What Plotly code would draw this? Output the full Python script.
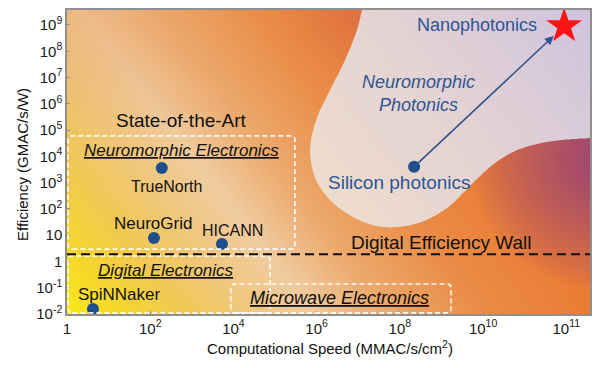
import base64
import struct
import zlib

import numpy as np
import plotly.graph_objects as go

# ---------------- data ----------------
chip_names = ["TrueNorth", "NeuroGrid", "HICANN", "SpiNNaker"]
chip_speed = [190, 123, 5300, 4.2]            # MMAC/s/cm^2
chip_eff = [3600, 7.8, 4.6, 0.0155]           # GMAC/s/W

photonic_names = ["Silicon photonics", "Nanophotonics"]
photonic_speed = [2.2e8, 8.9e11]
photonic_eff = [4.0e3, 9.1e8]

digital_wall_eff = 1.9

region_names = ["Neuromorphic Electronics", "Digital Electronics", "Microwave Electronics"]
region_speed_lo = [1.07, 1.07, 8.7e3]
region_speed_hi = [3.0e5, 7.6e4, 1.7e9]
region_eff_lo = [2.95, 0.011, 0.011]
region_eff_hi = [6.0e4, 1.62, 0.138]

x_tick_vals = [1, 1e2, 1e4, 1e6, 1e8, 1e10, 1e12]
x_tick_text = ["1", "10<sup>2</sup>", "10<sup>4</sup>", "10<sup>6</sup>",
               "10<sup>8</sup>", "10<sup>10</sup>", "10<sup>11</sup>"]
y_tick_vals = [1e-2, 1e-1, 1, 1e1, 1e2, 1e3, 1e4, 1e5, 1e6, 1e7, 1e8, 1e9]
y_tick_text = ["10<sup>-2</sup>", "10<sup>-1</sup>", "1", "10", "10<sup>2</sup>",
               "10<sup>3</sup>", "10<sup>4</sup>", "10<sup>5</sup>", "10<sup>6</sup>",
               "10<sup>7</sup>", "10<sup>8</sup>", "10<sup>9</sup>"]

L = np.log10

# ---------------- layout geometry ----------------
FIG_W, FIG_H = 602, 368
M_L, M_R, M_T, M_B = 67, 12, 10, 54
PW, PH = FIG_W - M_L - M_R, FIG_H - M_T - M_B
X_RANGE = [0, 12.57]
Y_RANGE = [-2, 9.57]

FONT = "Liberation Sans, Arial, Helvetica, sans-serif"
BLUE_TXT = "#2c5696"
DOT = "#1f4e8c"


# ---------------- decorative background (gradient + photonics blob) ----------------
def catmull(points, n=10):
    pts = np.array(points, float)
    P = np.vstack([pts[0], pts, pts[-1]])
    out = []
    for i in range(1, len(P) - 2):
        p0, p1, p2, p3 = P[i - 1], P[i], P[i + 1], P[i + 2]
        for tt in np.linspace(0, 1, n, endpoint=False):
            t2, t3 = tt * tt, tt * tt * tt
            out.append(0.5 * ((2 * p1) + (-p0 + p2) * tt
                              + (2 * p0 - 5 * p1 + 4 * p2 - p3) * t2
                              + (-p0 + 3 * p1 - 3 * p2 + p3) * t3))
    out.append(pts[-1])
    return np.array(out)


def inside(poly, X, Y):
    res = np.zeros(X.shape, bool)
    xj, yj = poly[-1]
    for xi, yi in poly:
        cond = (yi > Y) != (yj > Y)
        xint = (xj - xi) * (Y - yi) / (yj - yi + 1e-12) + xi
        res ^= cond & (X < xint)
        xj, yj = xi, yi
    return res


def interp_color(t, stops, cols):
    cols = np.array(cols, float)
    return np.stack([np.interp(t, stops, cols[:, k]) for k in range(3)], axis=-1)


def build_background():
    ss = 2
    xs = M_L + (np.arange(PW * ss) + 0.5) / ss
    ys = M_T + (np.arange(PH * ss) + 0.5) / ss
    PX, PY = np.meshgrid(xs, ys)

    t = 0.8 * (PX - 83) - 0.6 * (PY - 10)
    base = interp_color(
        t,
        [-200, -150, -100, -50, 0, 60, 140, 230, 420],
        [(250, 236, 20), (245, 214, 45), (241, 200, 85), (240, 199, 125),
         (240, 204, 160), (236, 170, 110), (234, 140, 70), (234, 124, 52),
         (226, 108, 50)])

    # orange-ish tint on the upper-left
    f_top = np.clip(1 - (PY - 10) / 150, 0, 1) * 0.35 * np.clip((150 - t) / 150, 0, 1)
    base = base * (1 - f_top[..., None]) + np.array([232, 150, 90]) * f_top[..., None]

    # reddish tint at top (behind the blob)
    d2 = np.sqrt(((PX - 380) / 110) ** 2 + ((PY - 0) / 90) ** 2)
    w2 = np.clip(1 - d2, 0, 1) * 0.45
    base = base * (1 - w2[..., None]) + np.array([200, 90, 80]) * w2[..., None]

    # purple corner on the right
    d = np.sqrt(((PX - 605) / 135) ** 2 + ((PY - 160) / 130) ** 2)
    w = np.clip(1 - d, 0, 1) ** 0.8 * 0.95
    base = base * (1 - w[..., None]) + np.array([150, 64, 120]) * w[..., None]

    # photonics blob
    ctrl = [(367, -2), (362, 10), (357, 30), (345, 60), (330, 90), (318, 115),
            (311, 140), (311, 162), (317, 182), (330, 200), (348, 214), (372, 225),
            (398, 227), (424, 221), (447, 208), (463, 193), (478, 178), (495, 163),
            (515, 151), (537, 144), (562, 140), (591, 138), (606, 137)]
    poly = np.vstack([catmull(ctrl, 10), [[606, -2]]])
    mask = inside(poly, PX, PY).astype(float)
    s = np.clip(((PX - 330) * 261 + (PY - 210) * (-200)) / (329.0 ** 2), 0, 1)
    blob = interp_color(s, [0, 0.5, 1],
                        [(238, 220, 204), (227, 210, 211), (207, 195, 222)])
    img = base * (1 - mask[..., None]) + blob * mask[..., None]

    img = img.reshape(PH, ss, PW, ss, 3).mean(axis=(1, 3))
    return np.clip(np.round(img), 0, 255).astype(np.uint8)


def png_data_uri(rgb):
    h, w, _ = rgb.shape
    raw = b"".join(b"\x00" + np.ascontiguousarray(rgb[r]).tobytes() for r in range(h))

    def chunk(tag, data):
        c = struct.pack(">I", len(data)) + tag + data
        return c + struct.pack(">I", zlib.crc32(tag + data) & 0xFFFFFFFF)

    png = (b"\x89PNG\r\n\x1a\n"
           + chunk(b"IHDR", struct.pack(">IIBBBBB", w, h, 8, 2, 0, 0, 0))
           + chunk(b"IDAT", zlib.compress(raw, 9))
           + chunk(b"IEND", b""))
    return "data:image/png;base64," + base64.b64encode(png).decode()


bg_uri = png_data_uri(build_background())

# ---------------- figure ----------------
fig = go.Figure()

# region boxes (dashed white, rounded corners)
rx, ry = 0.1, 0.15
for x0, x1, y0, y1 in zip(L(region_speed_lo), L(region_speed_hi),
                          L(region_eff_lo), L(region_eff_hi)):
    path = (f"M{x0 + rx},{y0} L{x1 - rx},{y0} Q{x1},{y0} {x1},{y0 + ry} "
            f"L{x1},{y1 - ry} Q{x1},{y1} {x1 - rx},{y1} "
            f"L{x0 + rx},{y1} Q{x0},{y1} {x0},{y1 - ry} "
            f"L{x0},{y0 + ry} Q{x0},{y0} {x0 + rx},{y0} Z")
    fig.add_shape(type="path", path=path, xref="x", yref="y",
                  line=dict(color="rgba(255,255,255,0.92)", width=1.6, dash="5px,3px"),
                  layer="above")

# digital efficiency wall
fig.add_shape(type="line", xref="paper", yref="y", x0=0, x1=1,
              y0=L(digital_wall_eff), y1=L(digital_wall_eff),
              line=dict(color="#111111", width=2, dash="9px,5px"), layer="above")

# electronic chips
fig.add_trace(go.Scatter(
    x=L(chip_speed), y=L(chip_eff), mode="markers",
    marker=dict(size=12, color=DOT, line=dict(width=0)),
    cliponaxis=False, showlegend=False, hoverinfo="text", text=chip_names))

# silicon photonics
fig.add_trace(go.Scatter(
    x=L(photonic_speed[:1]), y=L(photonic_eff[:1]), mode="markers",
    marker=dict(size=12, color=DOT, line=dict(width=0)),
    cliponaxis=False, showlegend=False, hoverinfo="text", text=photonic_names[:1]))

# nanophotonics star
fig.add_trace(go.Scatter(
    x=L(photonic_speed[1:]), y=L(photonic_eff[1:]), mode="markers",
    marker=dict(size=27, color="#ff1414", symbol="star", line=dict(width=0)),
    cliponaxis=False, showlegend=False, hoverinfo="text", text=photonic_names[1:]))

# arrow from silicon photonics to nanophotonics
sx, sy = L(photonic_speed[0]), L(photonic_eff[0])
ex, ey = L(photonic_speed[1]), L(photonic_eff[1])
fig.add_annotation(x=sx + (ex - sx) * 0.93, y=sy + (ey - sy) * 0.93,
                   ax=sx, ay=sy, xref="x", yref="y", axref="x", ayref="y",
                   text="", showarrow=True, arrowhead=2, arrowsize=1.1,
                   arrowwidth=1.6, arrowcolor="#2b5590", standoff=0, startstandoff=0)


def label(x, y, text, size, color="#111111"):
    fig.add_annotation(x=x, y=y, xref="x", yref="y", text=text, showarrow=False,
                       xanchor="center", yanchor="middle",
                       font=dict(family=FONT, size=size, color=color))


label(9.86, 9.0, "Nanophotonics", 18, BLUE_TXT)
label(8.44, 6.41, "<i>Neuromorphic<br>Photonics</i>", 18, BLUE_TXT)
label(8.0, 2.99, "Silicon photonics", 19, BLUE_TXT)
label(2.76, 5.35, "State-of-the-Art", 19)
label(2.74, 4.24, f"<i><u>{region_names[0]}</u></i>", 17)
label(2.40, 2.87, chip_names[0], 16)
label(2.07, 1.46, chip_names[1], 17)
label(3.97, 1.16, chip_names[2], 16)
label(2.38, -0.36, f"<i><u>{region_names[1]}</u></i>", 17)
label(1.25, -1.24, chip_names[3], 17)
label(6.56, -1.39, f"<i><u>{region_names[2]}</u></i>", 18)
label(8.99, 0.74, "Digital Efficiency Wall", 19)

# axis titles
fig.add_annotation(x=(329.5 - M_L) / PW, y=-(347 - (M_T + PH)) / PH, xref="paper", yref="paper",
                   text="Computational Speed (MMAC/s/cm<sup>2</sup>)", showarrow=False,
                   xanchor="center", yanchor="middle",
                   font=dict(family=FONT, size=15, color="#111111"))
fig.add_annotation(x=(22 - M_L) / PW, y=((M_T + PH) - 165) / PH, xref="paper", yref="paper",
                   text="Efficiency (GMAC/s/W)", showarrow=False, textangle=-90,
                   xanchor="center", yanchor="middle",
                   font=dict(family=FONT, size=15, color="#111111"))

axis_common = dict(type="linear", showgrid=False, zeroline=False, showline=True,
                   linecolor="#8f8f8f", linewidth=1.5, mirror=True,
                   ticks="inside", ticklen=3, tickcolor="#8f8f8f", tickwidth=1,
                   tickfont=dict(family=FONT, size=15, color="#1a1a1a"))

fig.update_layout(
    width=FIG_W, height=FIG_H,
    margin=dict(l=M_L, r=M_R, t=M_T, b=M_B, autoexpand=False),
    paper_bgcolor="white", plot_bgcolor="rgba(0,0,0,0)",
    showlegend=False,
    xaxis=dict(range=X_RANGE, tickvals=list(L(x_tick_vals)), ticktext=x_tick_text,
               **axis_common),
    yaxis=dict(range=Y_RANGE, tickvals=list(L(y_tick_vals)), ticktext=y_tick_text,
               **axis_common),
    images=[dict(source=bg_uri, xref="paper", yref="paper", x=0, y=1,
                 sizex=1, sizey=1, xanchor="left", yanchor="top",
                 sizing="stretch", layer="below")],
)

fig.write_html("out.html", config={"displayModeBar": False},
               post_script="document.body.style.margin='0';")
